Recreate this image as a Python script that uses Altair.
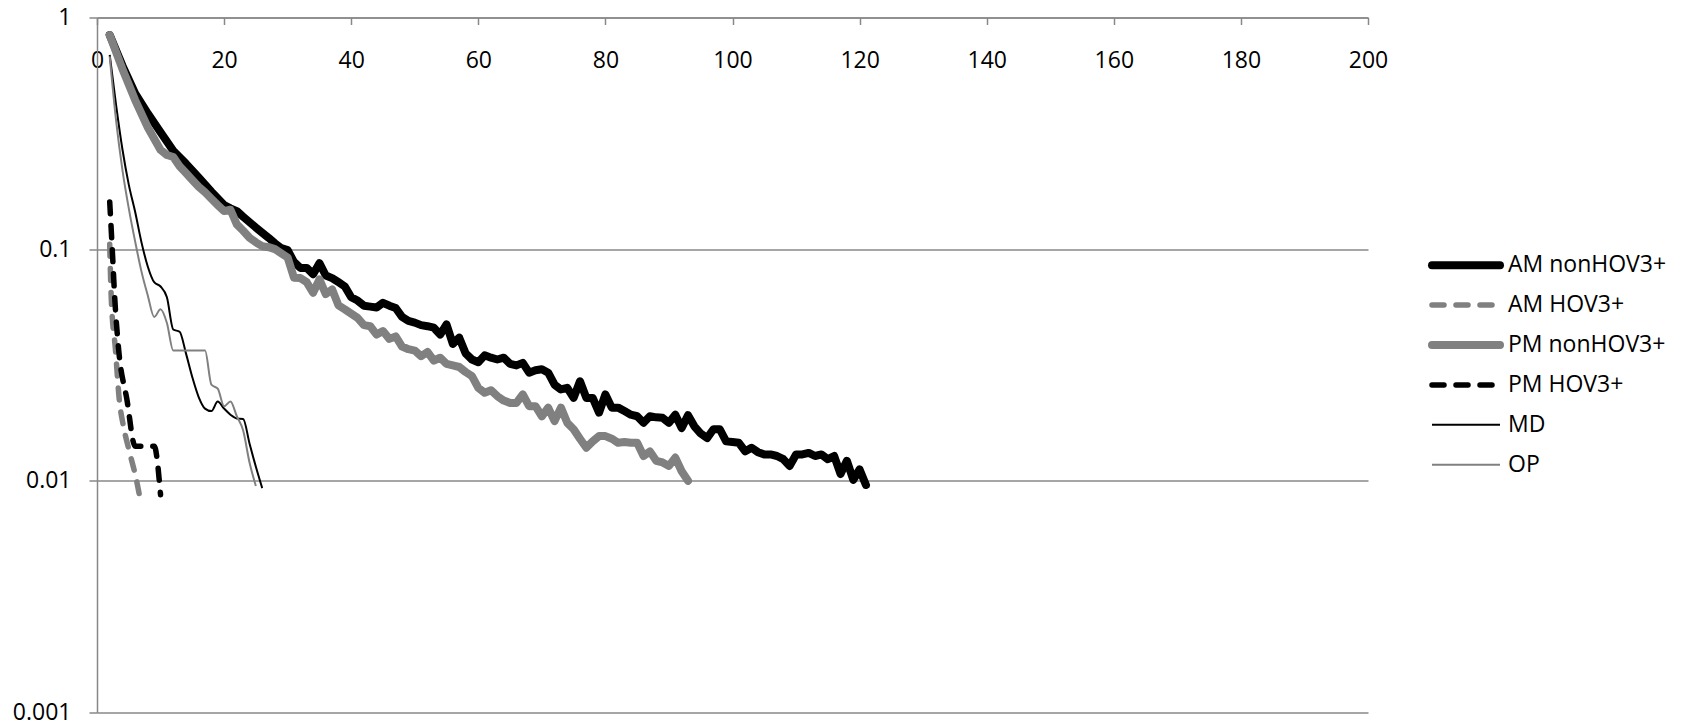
import altair as alt
import pandas as pd

# ---------------- data ----------------
series_names = ["AM nonHOV3+", "AM HOV3+", "PM nonHOV3+", "PM HOV3+", "MD", "OP"]

am_non_t = [2, 4, 6, 8, 10, 12, 14, 16, 18, 20, 21, 22, 23, 25, 27, 28, 29, 30,
            31, 32, 33, 34, 35, 36, 37, 38, 39, 40, 41, 42, 43, 44, 45, 46, 47, 48,
            49, 50, 51, 52, 53, 54, 55, 56, 57, 58, 59, 60, 61, 62, 63, 64, 65, 66,
            67, 68, 69, 70, 71, 72, 73, 74, 75, 76, 77, 78, 79, 80, 81, 82, 83, 84,
            85, 86, 87, 88, 89, 90, 91, 92, 93, 94, 95, 96, 97, 98, 99, 100, 101,
            102, 103, 104, 105, 106, 107, 108, 109, 110, 111, 112, 113, 114, 115,
            116, 117, 118, 119, 120, 121]
am_non_p = [0.84, 0.62, 0.47, 0.385, 0.32, 0.266, 0.234, 0.204, 0.177, 0.155, 0.150,
            0.146, 0.138, 0.124, 0.112, 0.106, 0.101, 0.099,
            0.088, 0.083, 0.083, 0.078, 0.087, 0.077, 0.075, 0.072, 0.069, 0.062,
            0.060, 0.057, 0.0565, 0.056, 0.0587, 0.057, 0.0557, 0.051,
            0.049, 0.0482, 0.047, 0.0465, 0.0458, 0.0428, 0.0473, 0.039, 0.0415,
            0.0355, 0.0334, 0.0325, 0.0348, 0.034, 0.0334, 0.034, 0.032, 0.0315,
            0.0323, 0.0293, 0.030, 0.0303, 0.0293, 0.026, 0.0248, 0.0252, 0.0228,
            0.0269, 0.0228, 0.0228, 0.0197, 0.0236, 0.0207, 0.0207, 0.020, 0.0193,
            0.019, 0.0178, 0.019, 0.0188, 0.0187, 0.0178, 0.0193, 0.0169, 0.0192,
            0.0172, 0.016, 0.0153, 0.0167, 0.0167, 0.0148, 0.0147, 0.0146,
            0.0134, 0.0139, 0.0133, 0.013, 0.013, 0.0128, 0.0124, 0.0116, 0.013,
            0.013, 0.0132, 0.0128, 0.013, 0.0124,
            0.0128, 0.0107, 0.0122, 0.0101, 0.0112, 0.0096]

am_hov_t = [2, 2.25, 2.9, 3.5, 4.2, 5.0, 6.3, 6.8]
am_hov_p = [0.105, 0.061, 0.037, 0.0225, 0.017, 0.0137, 0.0098, 0.0083]

pm_non_t = [2, 4, 6, 8, 10, 11, 12, 13, 14, 15, 16, 17, 18, 19, 20, 21, 22, 23, 24,
            25, 26, 27, 28, 29, 30, 31, 32, 33, 34, 35, 36, 37, 38, 39, 40, 41, 42,
            43, 44, 45, 46, 47, 48, 49, 50, 51, 52, 53, 54, 55, 56, 57, 58, 59, 60,
            61, 62, 63, 64, 65, 66, 67, 68, 69, 70, 71, 72, 73, 74, 75, 76, 77, 78,
            79, 80, 81, 82, 83, 84, 85, 86, 87, 88, 89, 90, 91, 92, 93]
pm_non_p = [0.84, 0.60, 0.44, 0.335, 0.268, 0.255, 0.250, 0.228, 0.213, 0.199, 0.186,
            0.176, 0.165, 0.155, 0.146, 0.148, 0.128, 0.12, 0.112,
            0.107, 0.103, 0.102, 0.100, 0.096, 0.092, 0.0752, 0.075, 0.072, 0.0648,
            0.074, 0.064, 0.067, 0.0572, 0.055, 0.0527, 0.0505, 0.047,
            0.0465, 0.0428, 0.0443, 0.041, 0.042, 0.038, 0.037, 0.0365, 0.0345,
            0.036, 0.033, 0.034, 0.032, 0.0315, 0.031, 0.0295, 0.0283, 0.0252,
            0.024, 0.0246, 0.0232, 0.0222, 0.0217, 0.0217, 0.0236, 0.021, 0.021,
            0.019, 0.0207, 0.0181, 0.0207, 0.0178, 0.0167, 0.0152, 0.0139, 0.0148,
            0.0156, 0.0156, 0.0152, 0.0146, 0.0147, 0.0146, 0.0146, 0.0128, 0.0134,
            0.0122, 0.012, 0.0116, 0.0126, 0.011, 0.0100]

pm_hov_t = [2, 2.4, 2.8, 3.4, 4.7, 6, 7, 8, 9, 10]
pm_hov_p = [0.16, 0.1, 0.061, 0.037, 0.0225, 0.0141, 0.0141, 0.0141, 0.0141, 0.0087]

md_t = [2, 3, 4, 5, 6, 7, 8, 9, 10, 11, 12, 13, 14, 15, 16, 17, 18, 19, 20, 21,
        22, 23, 24, 25, 26]
md_p = [0.69, 0.42, 0.27, 0.19, 0.145, 0.107, 0.084, 0.072, 0.069, 0.062, 0.045,
        0.044, 0.0355, 0.028, 0.023, 0.0205, 0.020, 0.022, 0.0205, 0.0193,
        0.0186, 0.0185, 0.0145, 0.0115, 0.0093]

op_t = [2, 3, 4, 5, 6, 7, 8, 9, 10, 11, 12, 13, 14, 15, 16, 17, 18, 19, 20, 21,
        22, 23, 24, 25]
op_p = [0.68, 0.36, 0.22, 0.15, 0.108, 0.08, 0.063, 0.051, 0.055, 0.048, 0.0365,
        0.0365, 0.0365, 0.0365, 0.0365, 0.0365, 0.026, 0.025, 0.021, 0.022,
        0.019, 0.0165, 0.012, 0.0095]

x_ticks = [0, 20, 40, 60, 80, 100, 120, 140, 160, 180, 200]
y_ticks = [0.001, 0.01, 0.1, 1]

# ---------------- styles ----------------
GRAY = "#808080"
styles = {
    "AM nonHOV3+": dict(color="black", strokeWidth=8, strokeCap="round", interpolate="linear"),
    "AM HOV3+": dict(color=GRAY, strokeWidth=5.5, strokeCap="round", strokeDash=[12, 12], interpolate="monotone"),
    "PM nonHOV3+": dict(color=GRAY, strokeWidth=8, strokeCap="round", interpolate="linear"),
    "PM HOV3+": dict(color="black", strokeWidth=5.5, strokeCap="round", strokeDash=[12, 12], interpolate="monotone"),
    "MD": dict(color="black", strokeWidth=2, strokeCap="butt", interpolate="monotone"),
    "OP": dict(color=GRAY, strokeWidth=2, strokeCap="butt", interpolate="monotone"),
}

series_data = {
    "AM nonHOV3+": (am_non_t, am_non_p),
    "AM HOV3+": (am_hov_t, am_hov_p),
    "PM nonHOV3+": (pm_non_t, pm_non_p),
    "PM HOV3+": (pm_hov_t, pm_hov_p),
    "MD": (md_t, md_p),
    "OP": (op_t, op_p),
}

rows = []
for name in series_names:
    ts, ps = series_data[name]
    for t, p in zip(ts, ps):
        rows.append({"series": name, "t": t, "p": p})
df = pd.DataFrame(rows)
legend_df = pd.DataFrame({"series": series_names})

FONT = "Open Sans"
FS = 23
AXIS_GRAY = "#888888"
W, H = 1271, 695

x_enc = alt.X(
    "t:Q",
    title=None,
    scale=alt.Scale(domain=[0, 200], nice=False),
    axis=alt.Axis(
        orient="bottom", offset=-H, values=x_ticks, grid=False,
        tickSize=7, labelPadding=25, labelFlush=False, format="d",
        domainColor=AXIS_GRAY, tickColor=AXIS_GRAY, domainWidth=1.5, tickWidth=1.5,
    ),
)
y_enc = alt.Y(
    "p:Q",
    title=None,
    scale=alt.Scale(type="log", domain=[0.001, 1], nice=False),
    axis=alt.Axis(
        values=y_ticks, format="~g", grid=True, gridColor=AXIS_GRAY, gridWidth=1.5,
        tickSize=8, labelPadding=18, labelFlush=False,
        domainColor=AXIS_GRAY, tickColor=AXIS_GRAY, domainWidth=1.5, tickWidth=1.5,
    ),
)

layers = []
for name in series_names:
    st = dict(styles[name])
    layers.append(
        alt.Chart(df)
        .transform_filter(alt.datum.series == name)
        .mark_line(strokeJoin="round", **st)
        .encode(x=x_enc, y=y_enc, order="t:Q")
    )
main = alt.layer(*layers).properties(width=W, height=H)

# legend drawn as its own small view
leg_y = alt.Y("series:N", scale=alt.Scale(domain=series_names, range=[227.7, 467.2], padding=0), axis=None)
leg_layers = []
for name in series_names:
    st = dict(styles[name])
    st.pop("interpolate")
    leg_layers.append(
        alt.Chart(legend_df)
        .transform_filter(alt.datum.series == name)
        .mark_rule(**st)
        .encode(y=leg_y, x=alt.value(4), x2=alt.value(72))
    )
leg_text = alt.Chart(legend_df).mark_text(
    align="left", baseline="middle", font=FONT, fontSize=FS, color="black"
).encode(y=leg_y, x=alt.value(80), text="series:N")
legend_view = alt.layer(*leg_layers, leg_text).properties(width=250, height=H)

chart = (
    alt.hconcat(main, legend_view, spacing=40)
    .properties(padding={"left": 12, "top": 6.5, "right": 0, "bottom": 0}, background="white")
    .configure_view(strokeWidth=0)
    .configure_axis(labelFont=FONT, labelFontSize=FS, labelColor="black")
)

chart.save("out.html", embed_options={"renderer": "svg", "actions": False})
